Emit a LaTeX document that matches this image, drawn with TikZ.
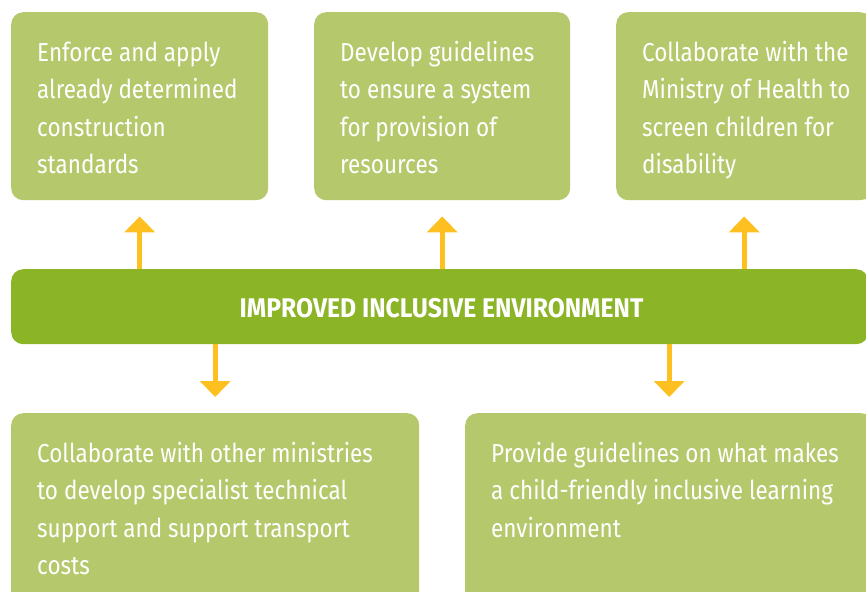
\documentclass[tikz,border=0pt]{standalone}
\usepackage{fontspec}
\usetikzlibrary{arrows.meta,calc}
\newfontfamily\bodyfont[FakeStretch=0.865]{Fira Sans}
\newfontfamily\titlefont[FakeStretch=0.915]{Fira Sans Bold}
\definecolor{lightgreen}{RGB}{181,201,108}
\definecolor{bargreen}{RGB}{139,180,38}
\definecolor{arrowyellow}{RGB}{253,192,32}
\newcommand{\firstline}{\rule{0pt}{25pt}}
\tikzset{
  box/.style={fill=lightgreen, rounded corners=12pt, inner sep=0pt, anchor=north west},
  bar/.style={fill=bargreen, rounded corners=12pt, inner sep=0pt, anchor=north west},
  txt/.style={text=white, inner sep=0pt, anchor=north west, align=left, font=\bodyfont\fontsize{26}{37.5}\selectfont},
  ttl/.style={text=white, inner sep=0pt, font=\titlefont\fontsize{27}{30}\selectfont},
  arr/.style={draw=arrowyellow, line width=5pt, -{Triangle[width=30pt,length=16pt,fill=arrowyellow]}}
}
\begin{document}
\begin{tikzpicture}[x=1pt,y=-1pt]
\useasboundingbox (0,0) rectangle (866,591);
\clip (0,0) rectangle (866,591);
% top boxes
\node[box, minimum width=257pt, minimum height=188pt] (b1) at (11,12) {};
\node[box, minimum width=256pt, minimum height=188pt] (b2) at (314,12) {};
\node[box, minimum width=256pt, minimum height=188pt] (b3) at (616,12) {};
\node[txt] (t1) at (37,36) {\firstline Enforce and apply\\already determined\\construction\\standards};
\node[txt] (t2) at (340,36) {\firstline Develop guidelines\\to ensure a system\\for provision of\\resources};
\node[txt] (t3) at (642,36) {\firstline Collaborate with the\\Ministry of Health to\\screen children for\\disability};
% central bar
\node[bar, minimum width=857pt, minimum height=75pt] (bar) at (11,269) {};
\node[ttl] (title) at (441.5,308.5) {IMPROVED INCLUSIVE ENVIRONMENT};
% bottom boxes
\node[box, minimum width=408pt, minimum height=200pt] (b4) at (11,413) {};
\node[box, minimum width=408pt, minimum height=200pt] (b5) at (465,413) {};
\node[txt] (t4) at (37,437) {\firstline Collaborate with other ministries\\to develop specialist technical\\support and support transport\\costs};
\node[txt] (t5) at (491,437) {\firstline Provide guidelines on what makes\\a child-friendly inclusive learning\\environment};
% arrows
\draw[arr] (bar.north -| b1.south) -- ([yshift=-16pt]b1.south);
\draw[arr] (bar.north -| b2.south) -- ([yshift=-16pt]b2.south);
\draw[arr] (bar.north -| b3.south) -- ([yshift=-16pt]b3.south);
\draw[arr] (bar.south -| b4.north) -- ([yshift=16pt]b4.north);
\draw[arr] (bar.south -| b5.north) -- ([yshift=16pt]b5.north);
\end{tikzpicture}
\end{document}
